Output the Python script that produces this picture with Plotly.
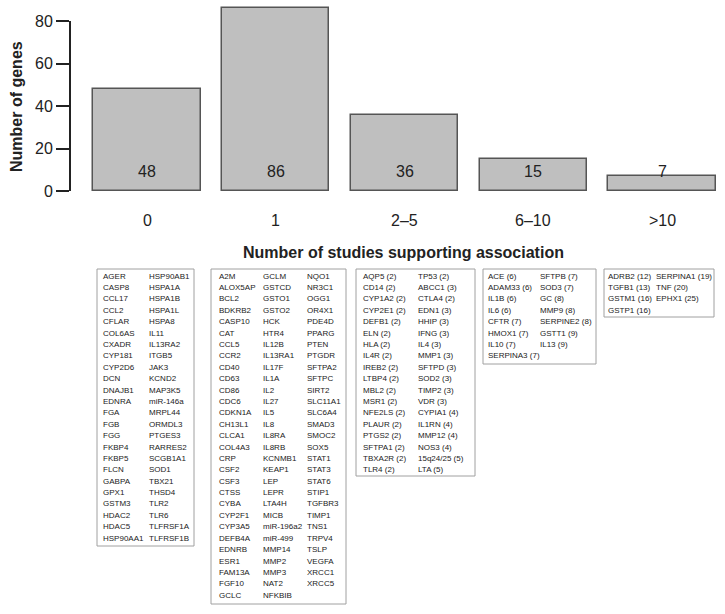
import plotly.graph_objects as go

# ---------------- data ----------------
categories = ["0", "1", "2\u20135", "6\u201310", ">10"]
gene_counts = [48, 86, 36, 15, 7]
y_ticks = [0, 20, 40, 60, 80]

genes_0 = ["AGER", "CASP8", "CCL17", "CCL2", "CFLAR", "COL6AS", "CXADR", "CYP181", "CYP2D6", "DCN",
           "DNAJB1", "EDNRA", "FGA", "FGB", "FGG", "FKBP4", "FKBP5", "FLCN", "GABPA", "GPX1",
           "GSTM3", "HDAC2", "HDAC5", "HSP90AA1",
           "HSP90AB1", "HSPA1A", "HSPA1B", "HSPA1L", "HSPA8", "IL11", "IL13RA2", "ITGB5", "JAK3", "KCND2",
           "MAP3K5", "miR-146a", "MRPL44", "ORMDL3", "PTGES3", "RARRES2", "SCGB1A1", "SOD1", "TBX21", "THSD4",
           "TLR2", "TLR6", "TLFRSF1A", "TLFRSF1B"]
genes_1 = ["A2M", "ALOX5AP", "BCL2", "BDKRB2", "CASP10", "CAT", "CCL5", "CCR2", "CD40", "CD63",
           "CD86", "CDC6", "CDKN1A", "CH13L1", "CLCA1", "COL4A3", "CRP", "CSF2", "CSF3", "CTSS",
           "CYBA", "CYP2F1", "CYP3A5", "DEFB4A", "EDNRB", "ESR1", "FAM13A", "FGF10", "GCLC",
           "GCLM", "GSTCD", "GSTO1", "GSTO2", "HCK", "HTR4", "IL12B", "IL13RA1", "IL17F", "IL1A",
           "IL2", "IL27", "IL5", "IL8", "IL8RA", "IL8RB", "KCNMB1", "KEAP1", "LEP", "LEPR",
           "LTA4H", "MICB", "miR-196a2", "miR-499", "MMP14", "MMP2", "MMP3", "NAT2", "NFKBIB",
           "NQO1", "NR3C1", "OGG1", "OR4X1", "PDE4D", "PPARG", "PTEN", "PTGDR", "SFTPA2", "SFTPC",
           "SIRT2", "SLC11A1", "SLC6A4", "SMAD3", "SMOC2", "SOX5", "STAT1", "STAT3", "STAT6", "STIP1",
           "TGFBR3", "TIMP1", "TNS1", "TRPV4", "TSLP", "VEGFA", "XRCC1", "XRCC5"]
genes_2_5 = ["AQP5 (2)", "CD14 (2)", "CYP1A2 (2)", "CYP2E1 (2)", "DEFB1 (2)", "ELN (2)", "HLA (2)",
             "IL4R (2)", "IREB2 (2)", "LTBP4 (2)", "MBL2 (2)", "MSR1 (2)", "NFE2LS (2)", "PLAUR (2)",
             "PTGS2 (2)", "SFTPA1 (2)", "TBXA2R (2)", "TLR4 (2)",
             "TP53 (2)", "ABCC1 (3)", "CTLA4 (2)", "EDN1 (3)", "HHIP (3)", "IFNG (3)", "IL4 (3)",
             "MMP1 (3)", "SFTPD (3)", "SOD2 (3)", "TIMP2 (3)", "VDR (3)", "CYPIA1 (4)", "IL1RN (4)",
             "MMP12 (4)", "NOS3 (4)", "15q24/25 (5)", "LTA (5)"]
genes_6_10 = ["ACE (6)", "ADAM33 (6)", "IL1B (6)", "IL6 (6)", "CFTR (7)", "HMOX1 (7)", "IL10 (7)",
              "SERPINA3 (7)",
              "SFTPB (7)", "SOD3 (7)", "GC (8)", "MMP9 (8)", "SERPINE2 (8)", "GSTT1 (9)", "IL13 (9)"]
genes_gt10 = ["ADRB2 (12)", "TGFB1 (13)", "GSTM1 (16)", "GSTP1 (16)",
              "SERPINA1 (19)", "TNF (20)", "EPHX1 (25)"]
gene_lists = [genes_0, genes_1, genes_2_5, genes_6_10, genes_gt10]
column_splits = [[24, 24], [29, 29, 28], [18, 18], [8, 7], [4, 3]]

# ---------------- layout geometry (pixels) ----------------
W_FIG, H_FIG = 725, 614
L, R, T, B = 70, 0, 0, 614 - 191
PW, PH = W_FIG - L - R, H_FIG - T - B
UNIT = 107.3
X0 = 0.7 - (147 - L) / UNIT
X1 = X0 + PW / UNIT
Y1 = PH / 2.125

def pxx(p):
    return (p - L) / PW

def pxy(p):
    return (T + PH - p) / PH

FONT = "Arial, Liberation Sans, sans-serif"
DARK = "#222222"

centers = [0.7 + 1.2 * i for i in range(len(categories))]

fig = go.Figure()
fig.add_trace(go.Bar(
    x=centers, y=gene_counts, width=1.0,
    marker=dict(color="#bfbfbf", line=dict(color="#555555", width=1.5)),
    hoverinfo="skip", showlegend=False,
))

annotations = []
shapes = []

# bar count labels
for xc, v in zip(centers, gene_counts):
    annotations.append(dict(x=xc, y=9.4, xref="x", yref="y", text=str(v), showarrow=False,
                            font=dict(size=16, color=DARK, family=FONT),
                            xanchor="center", yanchor="middle"))
# category labels
for xc, c in zip(centers, categories):
    annotations.append(dict(x=xc, y=pxy(220), xref="x", yref="paper", text=c, showarrow=False,
                            font=dict(size=16, color=DARK, family=FONT),
                            xanchor="center", yanchor="middle"))
# axis titles
annotations.append(dict(x=pxx(403), y=pxy(252), xref="paper", yref="paper",
                        text="<b>Number of studies supporting association</b>", showarrow=False,
                        font=dict(size=16, color=DARK, family=FONT),
                        xanchor="center", yanchor="middle"))
annotations.append(dict(x=pxx(16), y=pxy(107), xref="paper", yref="paper",
                        text="<b>Number of genes</b>", showarrow=False, textangle=-90,
                        font=dict(size=16, color=DARK, family=FONT),
                        xanchor="center", yanchor="middle"))

# y axis line (0..80 only)
shapes.append(dict(type="line", xref="paper", yref="y", x0=0, x1=0, y0=0, y1=y_ticks[-1],
                   line=dict(color=DARK, width=2)))

# gene boxes
boxes = [
    dict(left=97, right=194, top=269, bottom=546, cols=[102, 148]),
    dict(left=211, right=346, top=269, bottom=604, cols=[218, 262, 306]),
    dict(left=356, right=475, top=269, bottom=476, cols=[362, 417]),
    dict(left=483, right=596, top=269, bottom=364, cols=[487, 539]),
    dict(left=604, right=714, top=269, bottom=317, cols=[607, 655]),
]
ROW0, ROWSTEP = 276, 11.4
for genes, split, bx in zip(gene_lists, column_splits, boxes):
    shapes.append(dict(type="rect", xref="paper", yref="paper",
                       x0=pxx(bx["left"]), x1=pxx(bx["right"]),
                       y0=pxy(bx["bottom"]), y1=pxy(bx["top"]),
                       line=dict(color="#a0a0a0", width=1), fillcolor="rgba(0,0,0,0)"))
    idx = 0
    for ci, n in enumerate(split):
        for r in range(n):
            annotations.append(dict(x=pxx(bx["cols"][ci]), y=pxy(ROW0 + r * ROWSTEP),
                                    xref="paper", yref="paper", text=genes[idx], showarrow=False,
                                    font=dict(size=8, color=DARK, family=FONT),
                                    xanchor="left", yanchor="middle", borderpad=0))
            idx += 1

fig.update_layout(
    width=W_FIG, height=H_FIG,
    margin=dict(l=L, r=R, t=T, b=B),
    paper_bgcolor="white", plot_bgcolor="white",
    xaxis=dict(range=[X0, X1], showgrid=False, zeroline=False, showline=False,
               showticklabels=False, ticks="", fixedrange=True),
    yaxis=dict(range=[0, Y1], showgrid=False, zeroline=False, showline=False,
               tickvals=y_ticks, ticktext=[str(t) for t in y_ticks],
               ticks="outside", ticklen=13, tickwidth=2, tickcolor=DARK,
               tickfont=dict(size=16, color=DARK, family=FONT), fixedrange=True),
    annotations=annotations, shapes=shapes,
    bargap=0, showlegend=False,
)

fig.write_html("out.html", config={"displayModeBar": False},
               post_script="document.body.style.margin='0';document.body.style.overflow='hidden';")
